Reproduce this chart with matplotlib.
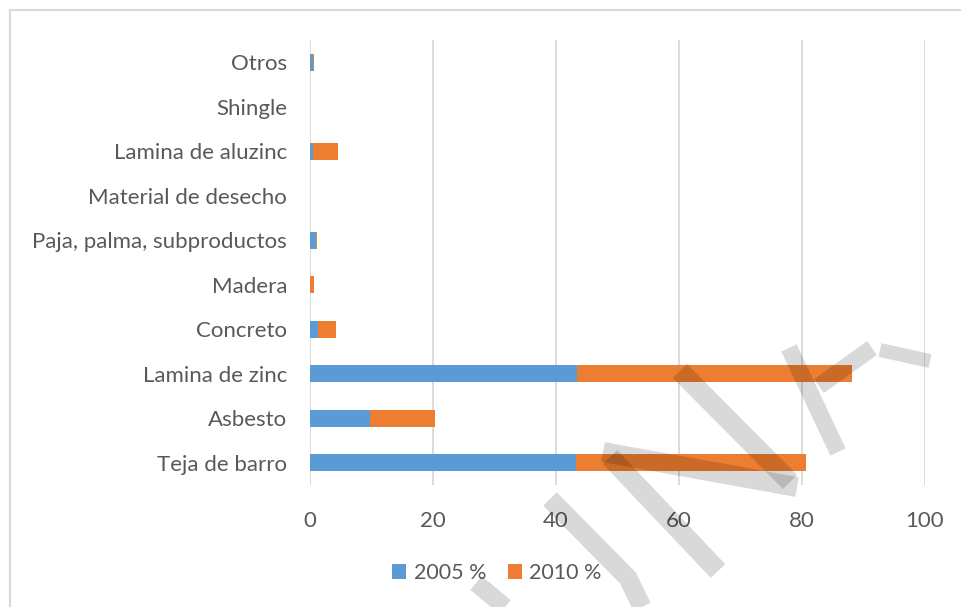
import matplotlib
matplotlib.use("Agg")
import matplotlib.pyplot as plt
from matplotlib.lines import Line2D
from matplotlib.patches import Rectangle

categories = ["Teja de barro", "Asbesto", "Lamina de zinc", "Concreto", "Madera",
              "Paja, palma, subproductos", "Material de desecho",
              "Lamina de aluzinc", "Shingle", "Otros"]
v2005 = [43.2, 9.8, 43.4, 1.3, 0.0, 0.9, 0.0, 0.5, 0.0, 0.55]
v2010 = [37.4, 10.5, 44.7, 2.9, 0.65, 0.2, 0.0, 4.0, 0.0, 0.15]
series_labels = ["2005 %", "2010 %"]
xticks = [0, 20, 40, 60, 80, 100]

BLUE = "#5B9BD5"
ORANGE = "#ED7D31"
TXT = "#595959"
GRID = "#D9D9D9"
FONT = "Lato"

W, H = 961, 607
fig = plt.figure(figsize=(W / 100, H / 100), dpi=100)
fig.patch.set_facecolor("white")

# outer chart frame
fig.add_artist(Rectangle((10 / W, -0.1), 1.2, 1 - 10 / H + 0.1, transform=fig.transFigure,
                         facecolor="none", edgecolor=GRID, linewidth=1.5))

ax = fig.add_axes([310 / W, 1 - 485 / H, 615 / W, 445 / H])
y = list(range(len(categories)))
ax.barh(y, v2005, height=0.38, color=BLUE, label=series_labels[0], zorder=3)
ax.barh(y, v2010, left=v2005, height=0.38, color=ORANGE, label=series_labels[1], zorder=3)

ax.set_xlim(0, 100)
ax.set_ylim(-0.5, len(categories) - 0.5)
ax.set_xticks(xticks)
ax.set_xticklabels([str(t) for t in xticks], fontsize=16, color=TXT, family=FONT)
ax.set_yticks(y)
ax.set_yticklabels(categories, fontsize=16, color=TXT, family=FONT)
ax.tick_params(axis="both", length=0)
ax.tick_params(axis="x", pad=19)
ax.tick_params(axis="y", pad=16.5)
for s in ax.spines.values():
    s.set_visible(False)
ax.grid(axis="x", color=GRID, linewidth=1.3, zorder=0)
ax.set_axisbelow(True)

leg = fig.legend(loc="center", bbox_to_anchor=(497 / W, 1 - 573 / H), ncol=2, frameon=False,
                 prop={"family": FONT, "size": 15.5}, handlelength=0.65, handleheight=0.65,
                 handletextpad=0.35, columnspacing=1.0, labelcolor=TXT)

# watermark strokes (decoration), pixel coordinates
strokes = [
    ([(680, 371), (790, 482)], 20),
    ([(789, 348), (838, 452)], 17),
    ([(872, 348), (819, 386)], 17),
    ([(880, 350), (930, 361)], 14),
    ([(603, 452), (797, 487)], 20),
    ([(610, 457), (718, 571)], 20),
    ([(550, 499), (628, 578), (642, 607)], 19),
    ([(476, 583), (505, 607)], 18),
]
for pts, wpx in strokes:
    xs = [p[0] / W for p in pts]
    ys = [1 - p[1] / H for p in pts]
    fig.add_artist(Line2D(xs, ys, transform=fig.transFigure, color="black", alpha=0.15,
                          linewidth=wpx * 0.72, solid_capstyle="butt",
                          solid_joinstyle="round", zorder=10))

fig.savefig("out.png", dpi=100, facecolor="white")
